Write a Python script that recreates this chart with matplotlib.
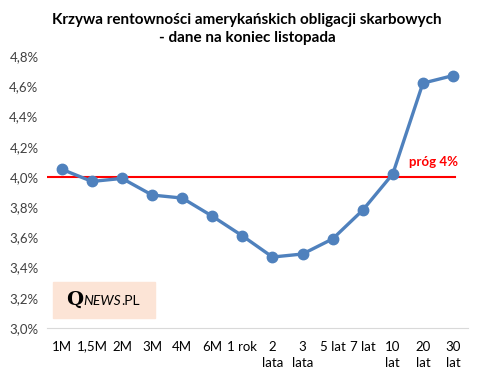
import matplotlib.pyplot as plt
from matplotlib.patches import Rectangle
from matplotlib.ticker import FuncFormatter
from matplotlib.offsetbox import TextArea, HPacker, AnchoredOffsetbox

categories = ['1M', '1,5M', '2M', '3M', '4M', '6M', '1 rok', '2\nlata', '3\nlata',
              '5 lat', '7 lat', '10\nlat', '20\nlat', '30\nlat']
yields = [4.05, 3.97, 3.99, 3.88, 3.86, 3.74, 3.61, 3.47, 3.49, 3.59, 3.78, 4.02, 4.62, 4.67]
threshold = 4.0

plt.rcParams['font.family'] = ['Lato', 'DejaVu Sans']

fig = plt.figure(figsize=(4.83, 3.78), dpi=100)
ax = fig.add_axes([0.097, 0.132, 0.872, 0.72])

x = list(range(len(categories)))
ax.plot(x, yields, color='#4f81bd', lw=2.4, marker='o', ms=7.5, zorder=3)
ax.axhline(threshold, color='#ff0000', lw=1.5, xmin=0.0, xmax=0.97, zorder=2)
ax.text(12.35, threshold + 0.06, 'próg 4%', color='#ff0000', fontsize=9.5,
        fontweight='bold', ha='center', va='bottom')

ax.set_xlim(-0.5, len(categories) - 0.5)
ax.set_ylim(3.0, 4.8)
ax.set_yticks([3.0 + 0.2 * i for i in range(10)])
ax.yaxis.set_major_formatter(FuncFormatter(lambda v, p: f'{v:.1f}%'.replace('.', ',')))
ax.set_xticks(x)
ax.set_xticklabels(categories, fontsize=9.5, linespacing=1.45, va='top')
ax.tick_params(axis='y', labelsize=9.5, length=0, pad=6, colors='#404040')
ax.tick_params(axis='x', length=0, pad=9, colors='#000000')
for s in ['top', 'right', 'left']:
    ax.spines[s].set_visible(False)
ax.spines['bottom'].set_color('#d9d9d9')

fig.suptitle('Krzywa rentowności amerykańskich obligacji skarbowych\n- dane na koniec listopada',
             fontsize=11, fontweight='bold', y=0.965, x=0.512, linespacing=1.3)

# watermark
fig.patches.append(Rectangle((53 / 483, 1 - 318 / 378), 102 / 483, 36 / 378,
                             transform=fig.transFigure, color='#fce4d6', zorder=0))
logo = HPacker(children=[
    TextArea('Q', textprops=dict(family='DejaVu Serif', fontweight='bold', fontsize=14)),
    TextArea('NEWS', textprops=dict(style='italic', fontsize=10)),
    TextArea('.PL', textprops=dict(fontsize=10)),
], sep=0, align='baseline')
anchored = AnchoredOffsetbox(loc='center left', child=logo, pad=0, borderpad=0, frameon=False,
                             bbox_to_anchor=(66 / 483, 1 - 300 / 378),
                             bbox_transform=fig.transFigure)
fig.add_artist(anchored)

fig.savefig('out.png', dpi=100)
